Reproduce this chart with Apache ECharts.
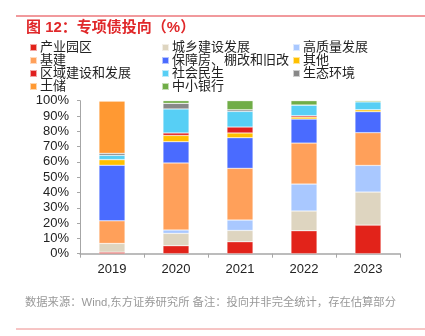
<!DOCTYPE html>
<html><head><meta charset="utf-8">
<script src="https://cdn.jsdelivr.net/npm/echarts@6/dist/echarts.min.js"></script>
<style>html,body{margin:0;padding:0;background:#fff}#c{width:425px;height:336px}</style>
</head><body><div id="c"></div>
<script>
const years = ['2019','2020','2021','2022','2023'];
const yTicks = [0,10,20,30,40,50,60,70,80,90,100];
const names = ['产业园区','城乡建设发展','高质量发展','基建','保障房、棚改和旧改','其他','区域建设和发展','社会民生','生态环境','土储','中小银行'];
const colors = ['#E2231A','#DED5C0','#A9C8FF','#FFA05A','#4A6BFF','#FFC000','#E02020','#57CFF5','#888888','#FF9933','#70AD47'];
const s_cyyq = [1.0, 5.2, 7.8, 15.0, 18.7];
const s_cxjs = [5.7, 8.1, 7.4, 12.9, 21.6];
const s_gzl  = [0.0, 2.2, 6.8, 17.6, 17.4];
const s_jj   = [14.8, 43.8, 33.8, 26.8, 21.4];
const s_bzf  = [36.3, 13.9, 20.0, 15.7, 13.7];
const s_qt   = [3.7, 4.1, 3.1, 1.3, 1.3];
const s_qyjs = [0.0, 1.6, 3.9, 0.9, 0.0];
const s_shms = [2.8, 15.7, 10.2, 7.0, 5.2];
const s_sthj = [1.3, 3.7, 1.1, 0.0, 0.0];
const s_tc   = [34.2, 0.0, 0.0, 0.0, 0.0];
const s_zxyh = [0.0, 1.7, 5.9, 2.8, 0.7];
const seriesData = [s_cyyq,s_cxjs,s_gzl,s_jj,s_bzf,s_qt,s_qyjs,s_shms,s_sthj,s_tc,s_zxyh];

const FF = '"Liberation Sans","Noto Sans CJK SC",sans-serif';
const chart = echarts.init(document.getElementById('c'));
const legendBase = {orient:'vertical', itemWidth:7, itemHeight:7, itemGap:0, icon:'rect', top:41,
  textStyle:{fontFamily:FF, fontSize:13, color:'#222', lineHeight:13, padding:[0,0,0,-2]}, selectedMode:false, padding:0};
chart.setOption({
  animation:false,
  color: colors,
  graphic:[
    {type:'line', shape:{x1:16,y1:16,x2:425,y2:16}, style:{stroke:'#E3343A', lineWidth:1}},
    {type:'text', left:26, top:20, style:{text:'图 12：专项债投向（%）', fill:'#E0282A', font:'bold 15px '+FF}},
    {type:'text', left:25, top:297, style:{text:'数据来源：Wind,东方证券研究所 备注：投向并非完全统计，存在估算部分', fill:'#999', font:'11.3px '+FF}},
    {type:'line', shape:{x1:16,y1:329,x2:425,y2:329}, style:{stroke:'#EE8A8A', lineWidth:1}}
  ],
  legend:[
    Object.assign({}, legendBase, {left:29, data:[names[0],names[3],names[6],names[9]]}),
    Object.assign({}, legendBase, {left:161, data:[names[1],names[4],names[7],names[10]]}),
    Object.assign({}, legendBase, {left:292, data:[names[2],names[5],names[8]]})
  ],
  grid:{left:80, right:25, top:100.7, bottom:82.3},
  xAxis:{type:'category', data:years,
    axisLine:{lineStyle:{color:'#A6A6A6', width:1.5}},
    axisTick:{show:true, length:4, lineStyle:{color:'#A6A6A6'}},
    axisLabel:{fontFamily:FF, fontSize:13, color:'#222', margin:9}},
  yAxis:{type:'value', min:0, max:100, interval:10,
    splitLine:{show:false},
    axisLine:{show:true, lineStyle:{color:'#A6A6A6'}},
    axisTick:{show:true, length:3, lineStyle:{color:'#A6A6A6'}},
    axisLabel:{fontFamily:FF, fontSize:13, color:'#222', margin:11, formatter: v => yTicks.includes(v) ? v+'%' : ''}},
  series: names.map((n,i)=>({name:n, type:'bar', stack:'a', barWidth:26, data:seriesData[i],
    itemStyle:{color:colors[i], borderColor:'rgba(255,255,255,0.6)', borderWidth:0.5}}))
});
</script></body></html>
